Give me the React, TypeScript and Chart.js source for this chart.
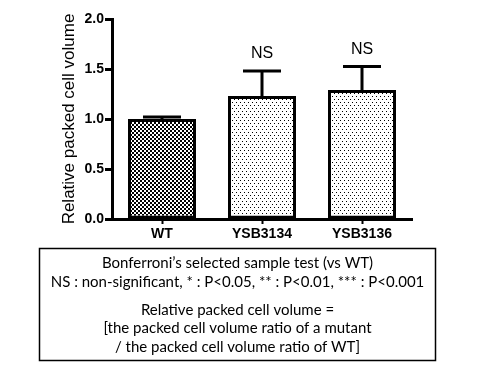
import React, { useEffect, useRef } from "react";
import { Chart, registerables } from "chart.js";

Chart.register(...registerables);

const categories = ["WT", "YSB3134", "YSB3136"];
const means = [1.0, 1.23, 1.29];
const errors = [0.02, 0.25, 0.235];
const sigLabels = ["", "NS", "NS"];
const yTicks = [0, 0.5, 1.0, 1.5, 2.0];
const yTitle = "Relative packed cell volume";
const noteLines1 = [
  "Bonferroni\u2019s selected sample test (vs WT)",
  "NS : non-significant, * : P<0.05, ** : P<0.01, *** : P<0.001",
];
const noteLines2 = [
  "Relative packed cell volume =",
  "[the packed cell volume ratio of a mutant",
  "/ the packed cell volume ratio of WT]",
];

function makeChecker(): CanvasPattern | string {
  const c = document.createElement("canvas");
  c.width = 4;
  c.height = 4;
  const g = c.getContext("2d");
  if (!g) return "#888";
  g.fillStyle = "#fff";
  g.fillRect(0, 0, 4, 4);
  g.fillStyle = "#000";
  g.fillRect(0, 0, 2, 2);
  g.fillRect(2, 2, 2, 2);
  return g.createPattern(c, "repeat") || "#888";
}

function makeDots(): CanvasPattern | string {
  const c = document.createElement("canvas");
  c.width = 4;
  c.height = 6;
  const g = c.getContext("2d");
  if (!g) return "#ddd";
  g.fillStyle = "#fff";
  g.fillRect(0, 0, 4, 6);
  g.fillStyle = "#000";
  g.fillRect(0, 0, 1, 1);
  g.fillRect(2, 3, 1, 1);
  return g.createPattern(c, "repeat") || "#ddd";
}

const AXIS_FONT = "'Liberation Sans', Arial, sans-serif";
const NOTE_FONT = "Lato, 'Open Sans', sans-serif";

export default function App() {
  const ref = useRef<HTMLCanvasElement | null>(null);

  useEffect(() => {
    const canvas = ref.current;
    if (!canvas) return;
    Chart.defaults.font.family = AXIS_FONT;
    Chart.defaults.color = "#000";

    const extras = {
      id: "extras",
      afterDatasetsDraw(chart: any) {
        const ctx = chart.ctx;
        const x = chart.scales.x;
        const y = chart.scales.y;
        ctx.save();
        ctx.strokeStyle = "#000";
        ctx.lineWidth = 3;
        ctx.lineCap = "butt";
        means.forEach((m, i) => {
          const cx = x.getPixelForValue(i);
          const yTop = y.getPixelForValue(m);
          const yErr = y.getPixelForValue(m + errors[i]);
          ctx.beginPath();
          ctx.moveTo(cx, yTop);
          ctx.lineTo(cx, yErr);
          ctx.moveTo(cx - 19, yErr);
          ctx.lineTo(cx + 19, yErr);
          ctx.stroke();
          if (sigLabels[i]) {
            ctx.fillStyle = "#000";
            ctx.font = "16px " + AXIS_FONT;
            ctx.textAlign = "center";
            ctx.textBaseline = "middle";
            ctx.fillText(sigLabels[i], cx, yErr - 17);
          }
        });
        ctx.restore();
      },
      afterDraw(chart: any) {
        const ctx = chart.ctx;
        ctx.save();
        ctx.strokeStyle = "#000";
        ctx.lineWidth = 1.5;
        ctx.strokeRect(39.5, 248.5, 396, 112);
        const target = 375;
        ctx.font = "14px " + NOTE_FONT;
        const w = ctx.measureText(noteLines1[1]).width;
        const size = Math.min(15, (14 * target) / w);
        ctx.font = size.toFixed(2) + "px " + NOTE_FONT;
        ctx.fillStyle = "#000";
        ctx.textAlign = "center";
        ctx.textBaseline = "middle";
        const cx = 237.5;
        const ys1 = [263, 282];
        const ys2 = [310, 328, 347];
        noteLines1.forEach((t, i) => ctx.fillText(t, cx, ys1[i]));
        noteLines2.forEach((t, i) => ctx.fillText(t, cx, ys2[i]));
        ctx.restore();
      },
    };

    const checker = makeChecker();
    const dots = makeDots();

    const chart = new Chart(canvas, {
      type: "bar",
      data: {
        labels: categories,
        datasets: [
          {
            data: means,
            backgroundColor: [checker, dots, dots] as any,
            borderColor: "#000",
            borderWidth: 3,
            borderSkipped: false,
            barPercentage: 0.68,
            categoryPercentage: 1,
          },
        ],
      },
      options: {
        responsive: false,
        animation: false,
        events: [],
        layout: { padding: { left: 55, right: 68, top: 19, bottom: 121 } },
        plugins: {
          legend: { display: false },
          tooltip: { enabled: false },
        },
        scales: {
          x: {
            offset: true,
            grid: {
              offset: false,
              drawOnChartArea: false,
              drawTicks: true,
              tickLength: 5,
              tickWidth: 2,
              tickColor: "#000",
            },
            border: { display: true, width: 3, color: "#000" },
            ticks: {
              padding: 2,
              color: "#000",
              font: { size: 14, weight: "bold", family: AXIS_FONT },
            },
            afterFit(scale: any) {
              scale.height = 30;
            },
          },
          y: {
            min: 0,
            max: 2,
            afterBuildTicks(scale: any) {
              scale.ticks = yTicks.map((v) => ({ value: v }));
            },
            grid: {
              drawOnChartArea: false,
              drawTicks: true,
              tickLength: 7,
              tickWidth: 3,
              tickColor: "#000",
            },
            border: { display: true, width: 3, color: "#000" },
            ticks: {
              padding: 1,
              color: "#000",
              font: { size: 14, weight: "bold", family: AXIS_FONT },
              callback: (v: any) => Number(v).toFixed(1),
            },
            title: {
              display: true,
              text: yTitle,
              color: "#000",
              font: { size: 17, family: AXIS_FONT },
              padding: { top: 4, bottom: 4 },
            },
            afterFit(scale: any) {
              scale.width = 57;
            },
          },
        },
      },
      plugins: [extras],
    });

    return () => chart.destroy();
  }, []);

  return (
    <div
      style={{
        position: "fixed",
        left: 0,
        top: 0,
        width: 480,
        height: 370,
        background: "#fff",
      }}
    >
      <canvas ref={ref} width={480} height={370} style={{ display: "block" }} />
    </div>
  );
}
